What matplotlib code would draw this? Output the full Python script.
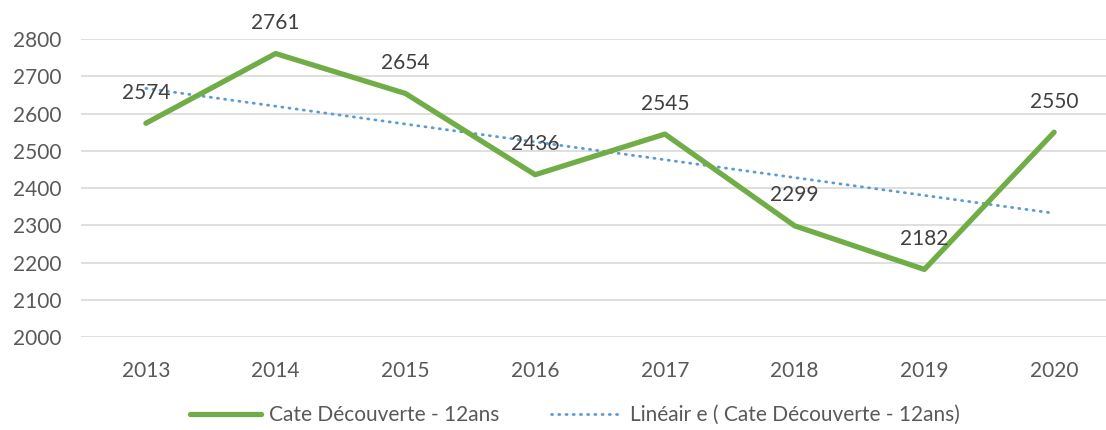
import numpy as np
import matplotlib
matplotlib.use("Agg")
import matplotlib.pyplot as plt
from matplotlib.lines import Line2D

years = ["2013", "2014", "2015", "2016", "2017", "2018", "2019", "2020"]
values = [2574, 2761, 2654, 2436, 2545, 2299, 2182, 2550]
series_name = "Cate Découverte - 12ans"
trend_name = "Linéair e ( Cate Découverte - 12ans)"

plt.rcParams['font.family'] = ['Lato', 'DejaVu Sans']
FS = 15

W, H = 1106, 430
fig = plt.figure(figsize=(W / 100, H / 100), dpi=100)
left_px, right_px = 81, 1119
top_px, bot_px = 39, 337.3
ax = fig.add_axes([left_px / W, 1 - bot_px / H, (right_px - left_px) / W, (bot_px - top_px) / H])

x = np.arange(len(years))
ax.set_xlim(-0.5, len(years) - 0.5)
ax.set_ylim(2000, 2800)
ax.set_yticks(np.arange(2000, 2801, 100))
ax.set_xticks(x)
ax.set_xticklabels(years)

ax.grid(axis='y', color='#d9d9d9', linewidth=1.2)
ax.set_axisbelow(True)
for s in ax.spines.values():
    s.set_visible(False)
ax.tick_params(axis='both', length=0, labelsize=FS, colors='#595959')
ax.tick_params(axis='y', pad=14)
ax.tick_params(axis='x', pad=17)

green = '#70ad47'
blue = '#5b9bd5'
ax.plot(x, values, color=green, linewidth=3.8, solid_capstyle='round', solid_joinstyle='round', zorder=3, clip_on=False)

coef = np.polyfit(x, values, 1)
trend = np.polyval(coef, x)
ax.plot(x, trend, color=blue, linewidth=2.0, linestyle=(0, (0.4, 2.2)), dash_capstyle='round', zorder=2)

for xi, v in zip(x, values):
    ax.annotate(str(v), (xi, v), xytext=(0, 22), textcoords='offset points',
                ha='center', va='center', fontsize=FS, color='#404040', zorder=4,
                annotation_clip=False)

handles = [
    Line2D([], [], color=green, linewidth=3.8, solid_capstyle='round'),
    Line2D([], [], color=blue, linewidth=2.0, linestyle=(0, (0.4, 2.2)), dash_capstyle='round'),
]
fig.legend(handles, [series_name, trend_name], loc='center', bbox_to_anchor=(575 / W, 1 - 415 / H),
           ncol=2, frameon=False, fontsize=FS, labelcolor='#595959', handlelength=3.4,
           handletextpad=0.4, columnspacing=2.5)

fig.savefig("out.png", dpi=100)
